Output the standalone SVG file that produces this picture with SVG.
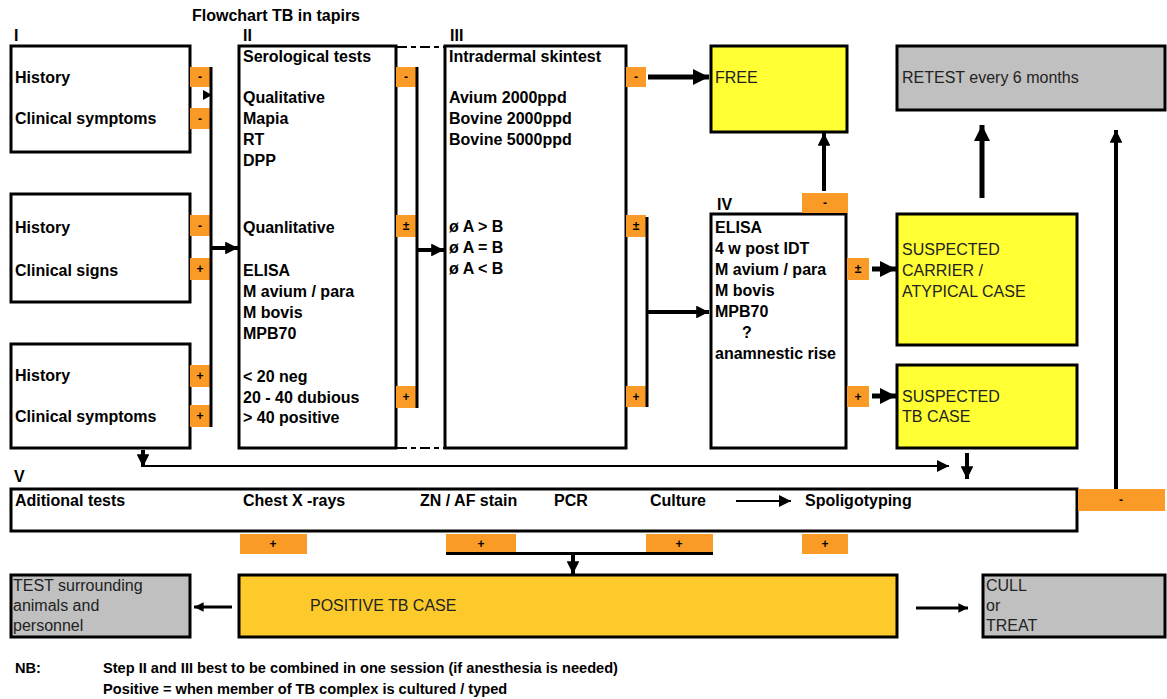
<svg xmlns="http://www.w3.org/2000/svg" width="1167" height="699" viewBox="0 0 1167 699">
<style>
.b{font-family:"Liberation Sans",Arial,sans-serif;font-weight:bold;font-size:16px;fill:#000}
.r{font-family:"Liberation Sans",Arial,sans-serif;font-size:16px;fill:#222}
.nb{font-family:"Liberation Sans",Arial,sans-serif;font-weight:bold;font-size:14.6px;fill:#000}
.t{font-family:"Liberation Sans",Arial,sans-serif;font-weight:bold;font-size:12px;fill:#000;text-anchor:middle}
.box{fill:#fff;stroke:#000;stroke-width:3}
.yel{fill:#FFFF33;stroke:#000;stroke-width:3}
.gry{fill:#C0C0C0;stroke:#000;stroke-width:3}
.gold{fill:#FCCA2A;stroke:#000;stroke-width:3}
.tag{fill:#FB9B27}
.ln{stroke:#000;fill:none}
.dash{stroke:#000;stroke-width:2;stroke-dasharray:10 4 5 4;fill:none}
</style>
<defs>
<marker id="ah" viewBox="0 0 10 10" refX="10" refY="5" markerWidth="3.2" markerHeight="3.2" orient="auto" markerUnits="strokeWidth">
<path d="M0,0 L10,5 L0,10 z" fill="#000"/>
</marker>
<marker id="ahs" viewBox="0 0 10 10" refX="10" refY="5" markerWidth="6" markerHeight="6" orient="auto" markerUnits="strokeWidth">
<path d="M0,0 L10,5 L0,10 z" fill="#000"/>
</marker>
</defs>

<text class="b" x="192" y="21">Flowchart TB in tapirs</text>
<text class="b" x="14" y="41">I</text>
<text class="b" x="243" y="41">II</text>
<text class="b" x="450" y="41">III</text>
<text class="b" x="717" y="210">IV</text>
<text class="b" x="14" y="482">V</text>

<g id="box-I-1">
<rect class="box" x="11" y="46" width="179" height="106"/>
<text class="b" x="15" y="83">History</text>
<text class="b" x="15" y="124">Clinical symptoms</text>
<rect class="tag" x="190" y="67" width="20" height="20"/><text class="t" x="200" y="81">-</text>
<rect class="tag" x="190" y="108" width="20" height="21"/><text class="t" x="200" y="123">-</text>
</g>
<g id="box-I-2">
<rect class="box" x="11" y="194" width="179" height="108"/>
<text class="b" x="15" y="233">History</text>
<text class="b" x="15" y="276">Clinical signs</text>
<rect class="tag" x="190" y="215" width="20" height="21"/><text class="t" x="200" y="230">-</text>
<rect class="tag" x="190" y="258" width="20" height="22"/><text class="t" x="200" y="273">+</text>
</g>
<g id="box-I-3">
<rect class="box" x="11" y="344" width="179" height="104"/>
<text class="b" x="15" y="381">History</text>
<text class="b" x="15" y="422">Clinical symptoms</text>
<rect class="tag" x="190" y="365" width="20" height="22"/><text class="t" x="200" y="380">+</text>
<rect class="tag" x="190" y="405" width="20" height="22"/><text class="t" x="200" y="420">+</text>
</g>

<g id="box-II">
<rect class="box" x="239" y="46" width="157" height="402"/>
<text class="b" x="243" y="62">Serological tests</text>
<text class="b" x="243" y="103">Qualitative</text>
<text class="b" x="243" y="124">Mapia</text>
<text class="b" x="243" y="145">RT</text>
<text class="b" x="243" y="166">DPP</text>
<text class="b" x="243" y="233">Quanlitative</text>
<text class="b" x="243" y="276">ELISA</text>
<text class="b" x="243" y="297">M avium / para</text>
<text class="b" x="243" y="318">M bovis</text>
<text class="b" x="243" y="339">MPB70</text>
<text class="b" x="243" y="382">&lt; 20 neg</text>
<text class="b" x="243" y="403">20 - 40 dubious</text>
<text class="b" x="243" y="423">&gt; 40 positive</text>
<rect class="tag" x="396" y="67" width="20" height="20"/><text class="t" x="406" y="81">-</text>
<rect class="tag" x="396" y="215" width="20" height="22"/><text class="t" x="406" y="230">±</text>
<rect class="tag" x="396" y="386" width="20" height="22"/><text class="t" x="406" y="401">+</text>
</g>

<g id="box-III">
<rect class="box" x="445" y="46" width="181" height="402"/>
<text class="b" x="449" y="62">Intradermal skintest</text>
<text class="b" x="449" y="103">Avium 2000ppd</text>
<text class="b" x="449" y="124">Bovine 2000ppd</text>
<text class="b" x="449" y="145">Bovine 5000ppd</text>
<text class="b" x="449" y="232">ø A &gt; B</text>
<text class="b" x="449" y="253">ø A = B</text>
<text class="b" x="449" y="274">ø A &lt; B</text>
<rect class="tag" x="626" y="67" width="20" height="20"/><text class="t" x="636" y="81">-</text>
<rect class="tag" x="626" y="215" width="20" height="22"/><text class="t" x="636" y="230">±</text>
<rect class="tag" x="626" y="386" width="20" height="21"/><text class="t" x="636" y="401">+</text>
</g>

<g id="free">
<rect class="yel" x="711" y="46" width="136" height="86"/>
<text class="r" x="715" y="83">FREE</text>
</g>

<g id="box-IV">
<rect class="box" x="711" y="214" width="135" height="234"/>
<text class="b" x="715" y="233">ELISA</text>
<text class="b" x="715" y="254">4 w post IDT</text>
<text class="b" x="715" y="275">M avium / para</text>
<text class="b" x="715" y="296">M bovis</text>
<text class="b" x="715" y="317">MPB70</text>
<text class="b" x="742" y="338">?</text>
<text class="b" x="715" y="359">anamnestic rise</text>
<rect class="tag" x="802" y="193" width="46" height="20"/><text class="t" x="825" y="207">-</text>
<rect class="tag" x="847" y="258" width="22" height="22"/><text class="t" x="858" y="273">±</text>
<rect class="tag" x="847" y="386" width="22" height="21"/><text class="t" x="858" y="401">+</text>
</g>

<g id="retest">
<rect class="gry" x="897" y="46" width="268" height="64"/>
<text class="r" x="902" y="83">RETEST every 6 months</text>
</g>

<g id="suspected-carrier">
<rect class="yel" x="897" y="214" width="180" height="131"/>
<text class="r" x="902" y="255">SUSPECTED</text>
<text class="r" x="902" y="276">CARRIER /</text>
<text class="r" x="902" y="297">ATYPICAL CASE</text>
</g>

<g id="suspected-tb">
<rect class="yel" x="897" y="365" width="180" height="83"/>
<text class="r" x="902" y="402">SUSPECTED</text>
<text class="r" x="902" y="422">TB CASE</text>
</g>

<g id="box-V">
<rect class="box" x="11" y="489" width="1066" height="42"/>
<text class="b" x="15" y="506">Aditional tests</text>
<text class="b" x="243" y="506">Chest X -rays</text>
<text class="b" x="420" y="506">ZN / AF stain</text>
<text class="b" x="554" y="506">PCR</text>
<text class="b" x="650" y="506">Culture</text>
<text class="b" x="805" y="506">Spoligotyping</text>
<rect class="tag" x="1078" y="489" width="87" height="22"/><text class="t" x="1121" y="504">-</text>
<rect class="tag" x="240" y="534" width="67" height="20"/><text class="t" x="273" y="548">+</text>
<rect class="tag" x="446" y="534" width="70" height="19"/><text class="t" x="481" y="548">+</text>
<rect class="tag" x="646" y="534" width="67" height="19"/><text class="t" x="679" y="548">+</text>
<rect class="tag" x="802" y="534" width="46" height="20"/><text class="t" x="825" y="548">+</text>
</g>

<g id="positive">
<rect class="gold" x="239" y="575" width="658" height="62"/>
<text class="r" x="310" y="611">POSITIVE TB CASE</text>
</g>

<g id="test-surrounding">
<rect class="gry" x="11" y="575" width="179" height="62"/>
<text class="r" x="13" y="591">TEST surrounding</text>
<text class="r" x="13" y="611">animals and</text>
<text class="r" x="13" y="631">personnel</text>
</g>

<g id="cull">
<rect class="gry" x="983" y="575" width="182" height="62"/>
<text class="r" x="986" y="591">CULL</text>
<text class="r" x="986" y="611">or</text>
<text class="r" x="986" y="631">TREAT</text>
</g>

<g id="connectors">
<line class="dash" x1="397" y1="47" x2="445" y2="47"/>
<line class="dash" x1="397" y1="448" x2="445" y2="448"/>
<line class="ln" x1="211" y1="67" x2="211" y2="427" stroke-width="3"/>
<path d="M203,90 L212,95 L203,100 z" fill="#000"/>
<line class="ln" x1="212" y1="248" x2="238" y2="248" stroke-width="4" marker-end="url(#ah)"/>
<line class="ln" x1="417" y1="67" x2="417" y2="408" stroke-width="3"/>
<line class="ln" x1="418" y1="250" x2="444" y2="250" stroke-width="4" marker-end="url(#ah)"/>
<line class="ln" x1="647" y1="217" x2="647" y2="407" stroke-width="3"/>
<line class="ln" x1="648" y1="312" x2="709" y2="312" stroke-width="4" marker-end="url(#ah)"/>
<line class="ln" x1="648" y1="77" x2="709" y2="77" stroke-width="5" marker-end="url(#ah)"/>
<line class="ln" x1="824" y1="191" x2="824" y2="133" stroke-width="4" marker-end="url(#ah)"/>
<line class="ln" x1="982" y1="198" x2="982" y2="125" stroke-width="5" marker-end="url(#ah)"/>
<line class="ln" x1="1116" y1="489" x2="1116" y2="130" stroke-width="4" marker-end="url(#ah)"/>
<line class="ln" x1="872" y1="269" x2="896" y2="269" stroke-width="5" marker-end="url(#ah)"/>
<line class="ln" x1="872" y1="396" x2="896" y2="396" stroke-width="5" marker-end="url(#ah)"/>
<line class="ln" x1="143" y1="450" x2="143" y2="467" stroke-width="4" marker-end="url(#ah)"/>
<line class="ln" x1="142" y1="466" x2="949" y2="466" stroke-width="2" marker-end="url(#ahs)"/>
<line class="ln" x1="967" y1="453" x2="967" y2="479" stroke-width="4" marker-end="url(#ah)"/>
<line class="ln" x1="736" y1="501" x2="791" y2="501" stroke-width="2" marker-end="url(#ahs)"/>
<line class="ln" x1="446" y1="553.5" x2="713" y2="553.5" stroke-width="3"/>
<line class="ln" x1="573" y1="554" x2="573" y2="574" stroke-width="4" marker-end="url(#ah)"/>
<line class="ln" x1="232" y1="607" x2="194" y2="607" stroke-width="3" marker-end="url(#ah)"/>
<line class="ln" x1="916" y1="608" x2="968" y2="608" stroke-width="3" marker-end="url(#ah)"/>
</g>

<text class="nb" x="15" y="673">NB:</text>
<text class="nb" x="103" y="673">Step II and III best to be combined in one session (if anesthesia is needed)</text>
<text class="nb" x="103" y="694">Positive = when member of TB complex is cultured / typed</text>
</svg>
